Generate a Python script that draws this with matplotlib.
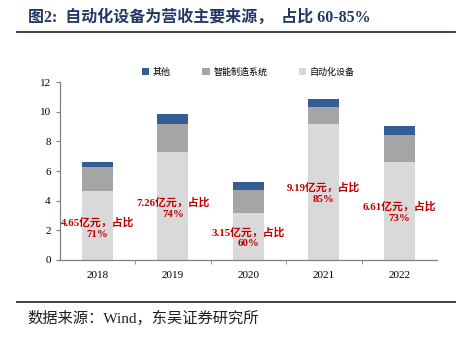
import matplotlib.pyplot as plt
import numpy as np

plt.rcParams['font.family'] = ['Liberation Serif', 'Noto Sans CJK SC']

# Data (亿元)
years = ['2018', '2019', '2020', '2021', '2022']
auto_equip = [4.65, 7.26, 3.15, 9.19, 6.61]
smart_mfg = [1.60, 1.90, 1.60, 1.15, 1.85]
other = [0.35, 0.70, 0.50, 0.55, 0.60]
share_pct = ['71%', '74%', '60%', '85%', '73%']
label_y = [2.15, 3.5, 1.5, 4.5, 3.25]

c_auto = '#d9d9d9'
c_smart = '#a5a5a5'
c_other = '#335d94'
c_red = '#c00000'

fig = plt.figure(figsize=(4.6, 3.38), dpi=100)
ax = fig.add_axes([0.130, 0.231, 0.820, 0.526])

x = np.arange(len(years))
w = 0.41
ax.bar(x, auto_equip, w, color=c_auto, label='自动化设备', zorder=2)
ax.bar(x, smart_mfg, w, bottom=auto_equip, color=c_smart, label='智能制造系统', zorder=2)
bottom2 = np.array(auto_equip) + np.array(smart_mfg)
ax.bar(x, other, w, bottom=bottom2, color=c_other, label='其他', zorder=2)

for i in range(len(years)):
    ax.text(x[i], label_y[i], f'{auto_equip[i]:.2f}亿元，占比\n{share_pct[i]}',
            ha='center', va='center', color=c_red, fontsize=7.8,
            fontweight='bold', linespacing=1.3, zorder=3)

ax.set_xlim(-0.5, len(years) - 0.5)
ax.set_ylim(0, 12)
ax.set_yticks(range(0, 13, 2))
ax.set_xticks(x)
ax.set_xticklabels(years)
ax.set_xticks(np.arange(0.5, len(years) - 0.5, 1), minor=True)
ax.tick_params(axis='x', which='major', length=0, labelsize=8, pad=8)
ax.tick_params(axis='x', which='minor', length=3, direction='out', color='#808080')
ax.tick_params(axis='y', length=3, labelsize=8, color='#808080')
for s in ['top', 'right']:
    ax.spines[s].set_visible(False)
for s in ['left', 'bottom']:
    ax.spines[s].set_color('#808080')
    ax.spines[s].set_linewidth(0.9)

handles, labels = ax.get_legend_handles_labels()
ax.legend(handles[::-1], labels[::-1], loc='lower center', bbox_to_anchor=(0.5, 1.0),
          ncol=3, frameon=False, fontsize=6.5, handlelength=0.8, handleheight=0.8,
          columnspacing=3.5, handletextpad=0.4, borderaxespad=0.2)

# Title and source
fig.text(0.06, 0.948, '图2:  自动化设备为营收主要来源，  占比 60-85%', fontsize=11.5,
         fontweight='bold', color='#1f3864', va='center')
fig.add_artist(plt.Line2D([0.038, 0.99], [0.904, 0.904], color='#303030', lw=1.3))
fig.add_artist(plt.Line2D([0.038, 0.99], [0.107, 0.107], color='#303030', lw=1.3))
fig.text(0.06, 0.058, '数据来源：Wind，东吴证券研究所', fontsize=11, color='#202020', va='center')

fig.savefig('out.png', dpi=100)
